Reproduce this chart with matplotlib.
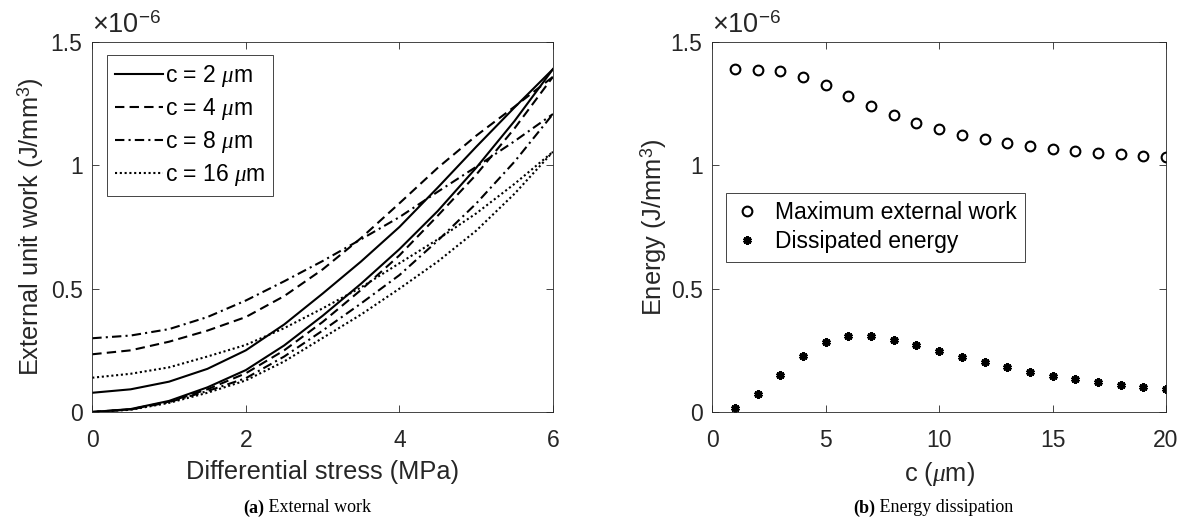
import numpy as np
import matplotlib
matplotlib.use('Agg')
import matplotlib.pyplot as plt

# (a) external unit work, x1e-6 J/mm^3, loading (lo) and unloading (up) branches
stress = [0, 0.5, 1, 1.5, 2, 2.5, 3, 3.5, 4, 4.5, 5, 5.5, 6]
c2_up = [0.078, 0.092, 0.123, 0.175, 0.250, 0.355, 0.480, 0.610, 0.750, 0.910, 1.075, 1.235, 1.390]
c2_lo = [0.000, 0.012, 0.045, 0.100, 0.170, 0.270, 0.390, 0.520, 0.660, 0.815, 0.990, 1.180, 1.390]
c4_up = [0.234, 0.250, 0.285, 0.330, 0.385, 0.470, 0.578, 0.705, 0.846, 0.990, 1.120, 1.238, 1.359]
c4_lo = [0.000, 0.011, 0.042, 0.092, 0.157, 0.250, 0.365, 0.495, 0.635, 0.796, 0.962, 1.150, 1.359]
c8_up = [0.299, 0.310, 0.336, 0.385, 0.452, 0.530, 0.612, 0.700, 0.790, 0.893, 0.994, 1.098, 1.208]
c8_lo = [0.000, 0.010, 0.040, 0.085, 0.137, 0.225, 0.330, 0.440, 0.555, 0.695, 0.845, 1.015, 1.208]
c16_up = [0.139, 0.155, 0.181, 0.225, 0.272, 0.340, 0.420, 0.505, 0.603, 0.700, 0.805, 0.925, 1.055]
c16_lo = [0.000, 0.009, 0.037, 0.078, 0.128, 0.205, 0.300, 0.395, 0.500, 0.610, 0.735, 0.885, 1.055]

# (b) energy vs crack size c (um), x1e-6 J/mm^3
c_um = list(range(1, 21))
max_work = [1.390, 1.388, 1.381, 1.359, 1.324, 1.283, 1.241, 1.206, 1.172, 1.146,
            1.124, 1.105, 1.090, 1.077, 1.066, 1.058, 1.050, 1.044, 1.039, 1.034]
dissipated = [0.018, 0.072, 0.151, 0.228, 0.282, 0.307, 0.308, 0.293, 0.273, 0.248,
              0.224, 0.202, 0.182, 0.164, 0.146, 0.133, 0.122, 0.110, 0.100, 0.092]

plt.rcParams['font.family'] = ['Liberation Sans', 'DejaVu Sans']
plt.rcParams['mathtext.fontset'] = 'custom'
plt.rcParams['mathtext.rm'] = 'Liberation Sans'
plt.rcParams['mathtext.it'] = 'Liberation Serif:italic'
plt.rcParams['axes.linewidth'] = 0.6

TICK = 16.5
LAB = 18.3
GRAY = '0.15'

fig = plt.figure(figsize=(11.92, 5.21), dpi=100)
ax1 = fig.add_axes([0.0774, 0.2092, 0.3865, 0.7102])
ax2 = fig.add_axes([0.5976, 0.2092, 0.3806, 0.7102])

curves = [
    ('2', c2_up, c2_lo, '-'),
    ('4', c4_up, c4_lo, (0, (4.5, 2.5))),
    ('8', c8_up, c8_lo, (0, (4.5, 2, 1, 2))),
    ('16', c16_up, c16_lo, (0, (1, 1.3))),
]
for c, up, lo, ls in curves:
    ax1.plot(stress, up, color='k', ls=ls, lw=1.5, label=r'c = %s $\mu$m' % c)
    ax1.plot(stress, lo, color='k', ls=ls, lw=1.5)

ax1.set_xlim(0, 6)
ax1.set_xticks([0, 2, 4, 6])
ax1.set_xlabel('Differential stress (MPa)', fontsize=LAB, color=GRAY, labelpad=6)
ax1.set_ylabel('External unit work (J/mm$^3$)', fontsize=LAB, color=GRAY, labelpad=3)
leg1 = ax1.legend(loc='upper left', bbox_to_anchor=(0.031, 0.965), borderaxespad=0,
                  fontsize=TICK, handlelength=2.1, handletextpad=0.1, labelspacing=0.3,
                  borderpad=0.35, fancybox=False, edgecolor=GRAY, framealpha=1)
leg1.get_frame().set_linewidth(0.6)

ax2.plot(c_um, max_work, 'o', mfc='none', mec='k', ms=7, mew=1.5,
         label='Maximum external work')
ax2.plot(c_um, dissipated, ls='none', marker=(6, 2, 0), mec='k', ms=6, mew=2.2,
         label='Dissipated energy')
ax2.set_xlim(0, 20)
ax2.set_xticks([0, 5, 10, 15, 20])
ax2.set_xlabel(r'c ($\mu$m)', fontsize=LAB, color=GRAY, labelpad=6)
ax2.set_ylabel('Energy (J/mm$^3$)', fontsize=LAB, color=GRAY, labelpad=1)
leg2 = ax2.legend(loc='upper left', bbox_to_anchor=(0.0295, 0.593), borderaxespad=0,
                  fontsize=TICK, handlelength=1.2, handletextpad=0.6, labelspacing=0.3,
                  borderpad=0.35, fancybox=False, edgecolor=GRAY, framealpha=1)
leg2.get_frame().set_linewidth(0.6)

for ax in (ax1, ax2):
    ax.set_ylim(0, 1.5)
    ax.set_yticks([0, 0.5, 1, 1.5])
    ax.set_yticklabels(['0', '0.5', '1', '1.5'])
    ax.tick_params(axis='both', direction='in', top=True, right=True, length=5,
                   width=0.6, labelsize=TICK, colors=GRAY)
    ax.tick_params(axis='x', pad=12)
    ax.tick_params(axis='y', pad=7)
    for s in ax.spines.values():
        s.set_color(GRAY)
    ax.text(0.0, 1.008, r'$\times10^{-6}$', transform=ax.transAxes, ha='left',
            va='bottom', fontsize=19.5, color=GRAY)

# sub-captions
fig.text(264 / 1192, 0.025, '(a)', ha='right', va='center', fontsize=13,
         family='Liberation Serif', weight='bold')
fig.text(264 / 1192, 0.025, ' External work', ha='left', va='center', fontsize=13,
         family='Liberation Serif')
fig.text(875 / 1192, 0.025, '(b)', ha='right', va='center', fontsize=13,
         family='Liberation Serif', weight='bold')
fig.text(875 / 1192, 0.025, ' Energy dissipation', ha='left', va='center', fontsize=13,
         family='Liberation Serif')

fig.savefig('out.png', dpi=100)
